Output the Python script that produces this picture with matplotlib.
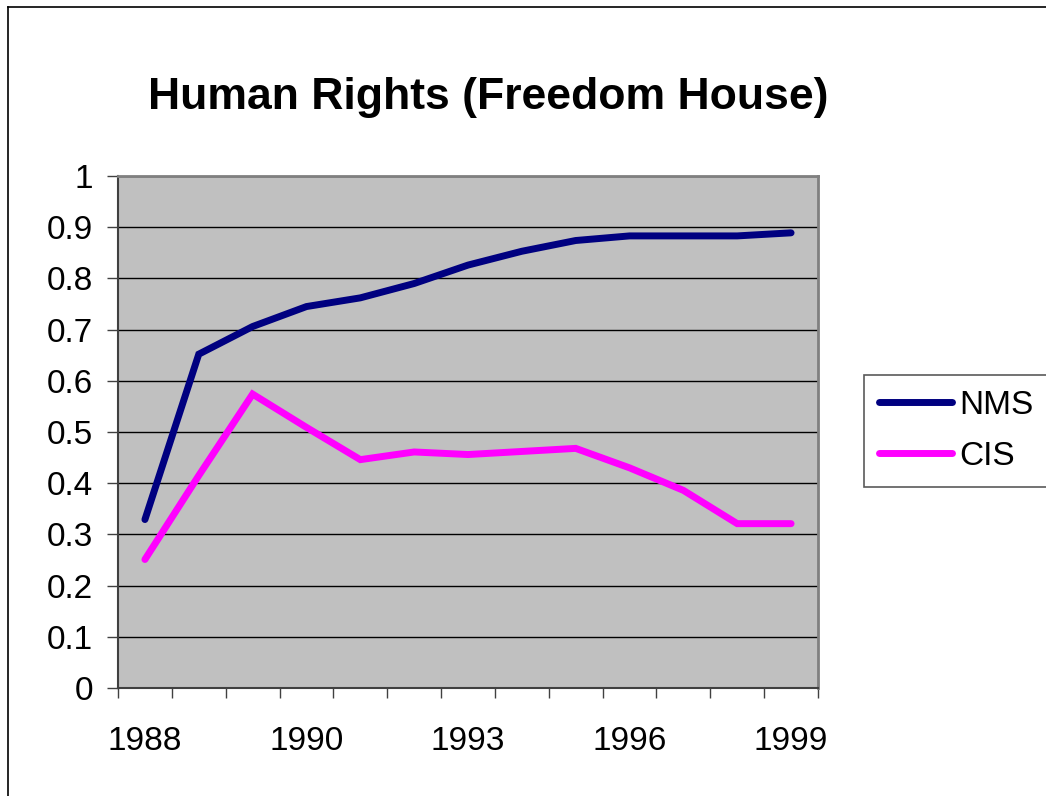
import matplotlib
matplotlib.use("Agg")
import matplotlib.pyplot as plt
from matplotlib.lines import Line2D

plt.rcParams["font.family"] = ["Liberation Sans", "DejaVu Sans"]

# year labels, only every third category is labelled on the axis
year_labels = ["1988", "", "", "1990", "", "", "1993", "", "", "1996", "", "", "1999"]
nms = [0.329, 0.652, 0.706, 0.745, 0.762, 0.790, 0.826, 0.853, 0.874, 0.883, 0.883, 0.883, 0.889]
cis = [0.251, 0.415, 0.574, 0.509, 0.446, 0.461, 0.456, 0.462, 0.468, 0.430, 0.386, 0.321, 0.321]
y_ticks = [0, 0.1, 0.2, 0.3, 0.4, 0.5, 0.6, 0.7, 0.8, 0.9, 1]
y_ticklabels = ["0", "0.1", "0.2", "0.3", "0.4", "0.5", "0.6", "0.7", "0.8", "0.9", "1"]

W, H = 1046, 796
fig = plt.figure(figsize=(W / 100, H / 100), dpi=100)
fig.patch.set_facecolor("white")

ax = fig.add_axes([118 / W, 1 - 688 / H, 700 / W, 512 / H])
ax.set_facecolor("#c0c0c0")

x = list(range(len(year_labels)))
ax.plot(x, nms, color="#000080", lw=5, solid_capstyle="round", solid_joinstyle="miter",
        label="NMS", zorder=3)
ax.plot(x, cis, color="#ff00ff", lw=5, solid_capstyle="round", solid_joinstyle="miter",
        label="CIS", zorder=3)

ax.set_xlim(-0.5, len(year_labels) - 0.5)
ax.set_ylim(0, 1)

# y axis
ax.set_yticks(y_ticks)
ax.set_yticklabels(y_ticklabels, fontsize=24)
ax.tick_params(axis="y", direction="out", length=8, width=1, color="#404040", pad=10)
ax.yaxis.grid(True, color="black", lw=1)
ax.set_axisbelow(True)

# x axis: tick marks between categories, labels on categories
ax.set_xticks([i - 0.5 for i in range(len(year_labels) + 1)])
ax.set_xticklabels([])
ax.tick_params(axis="x", which="major", direction="out", length=7, width=1, color="#404040")
ax.set_xticks(x, minor=True)
ax.set_xticklabels(year_labels, minor=True, fontsize=24)
ax.tick_params(axis="x", which="minor", length=0, pad=27)

for side in ["left", "bottom"]:
    ax.spines[side].set_color("#404040")
    ax.spines[side].set_linewidth(1.5)
for side in ["top", "right"]:
    ax.spines[side].set_color("#808080")
    ax.spines[side].set_linewidth(2)

fig.text(488 / W, 1 - 98 / H, "Human Rights (Freedom House)", fontsize=32,
         fontweight="bold", ha="center", va="center")

leg = fig.legend(loc="center", bbox_to_anchor=(956 / W, 1 - 431 / H), fontsize=24,
                 frameon=True, fancybox=False, handlelength=2.2, handletextpad=0.2,
                 labelspacing=0.6, borderpad=0.45, borderaxespad=0)
leg.get_frame().set_edgecolor("#303030")
leg.get_frame().set_linewidth(1.2)

# chart area border (only left and top edges fall inside the picture)
fig.add_artist(Line2D([7.5 / W, 7.5 / W], [0, 1 - 6.5 / H], color="black", lw=1.2))
fig.add_artist(Line2D([7.5 / W, 1], [1 - 6.5 / H, 1 - 6.5 / H], color="black", lw=1.2))

fig.savefig("out.png", dpi=100)
